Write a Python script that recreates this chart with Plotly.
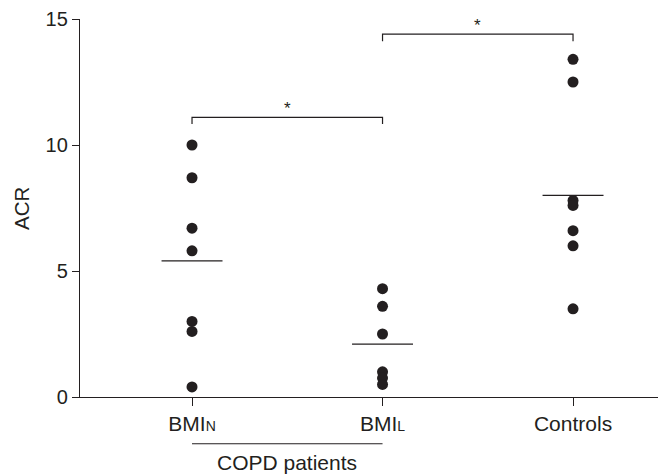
import plotly.graph_objects as go

categories = ["BMI<span style='font-size:14px'>N</span>",
              "BMI<span style='font-size:14px'>L</span>",
              "Controls"]
bmi_n = [10.0, 8.7, 6.7, 5.8, 3.0, 2.6, 0.4]
bmi_l = [4.3, 3.6, 2.5, 1.0, 0.75, 0.5]
controls = [13.4, 12.5, 7.8, 7.6, 6.6, 6.0, 3.5]
group_means = [5.4, 2.1, 8.0]
y_ticks = [0, 5, 10, 15]
group_label = "COPD patients"
sig_label = "*"

groups = [bmi_n, bmi_l, controls]
ink = "#231f20"
font_family = "Liberation Sans, Arial, sans-serif"

fig = go.Figure()
for i, vals in enumerate(groups):
    fig.add_trace(go.Scatter(
        x=[i] * len(vals), y=vals, mode="markers",
        marker=dict(size=11, color=ink, line=dict(width=0)),
        cliponaxis=False, showlegend=False, hoverinfo="y"))

# mean lines
for i, m in enumerate(group_means):
    fig.add_shape(type="line", xref="x", yref="y",
                  x0=i - 0.16, x1=i + 0.16, y0=m, y1=m,
                  line=dict(color=ink, width=1.3))

# significance brackets
brackets = [(0, 1, 11.1, 10.83), (1, 2, 14.4, 14.12)]
for a, b, top, foot in brackets:
    fig.add_shape(type="path", xref="x", yref="y",
                  path=f"M {a},{foot} L {a},{top} L {b},{top} L {b},{foot}",
                  line=dict(color=ink, width=1.2))
    fig.add_annotation(x=(a + b) / 2, y=top, xref="x", yref="y",
                       text=sig_label, showarrow=False, yanchor="bottom",
                       yshift=-3, font=dict(size=17, color=ink, family=font_family))

# COPD group line and label
fig.add_shape(type="line", xref="x", yref="paper",
              x0=0, x1=1, y0=-0.1237, y1=-0.1237,
              line=dict(color=ink, width=1.2))
fig.add_annotation(x=0.5, y=-0.172, xref="x", yref="paper",
                   text=group_label, showarrow=False, yanchor="middle",
                   font=dict(size=21, color=ink, family=font_family))

# y axis title
fig.add_annotation(x=-0.1007, y=0.5, xref="paper", yref="paper",
                   text="ACR", showarrow=False, textangle=-90,
                   xanchor="center", yanchor="middle",
                   font=dict(size=20.5, color=ink, family=font_family))

fig.update_layout(
    width=658, height=466,
    margin=dict(l=72, r=0, t=9, b=77),
    paper_bgcolor="white", plot_bgcolor="white",
    font=dict(family=font_family, size=20, color=ink),
    xaxis=dict(range=[-0.588, 2.488], tickvals=[0, 1, 2], ticktext=categories,
               tickfont=dict(size=21), ticklabeloverflow="allow",
               showgrid=False, zeroline=False, showline=True, linecolor=ink,
               linewidth=1.3, ticks="outside", ticklen=8, tickwidth=1.2,
               tickcolor=ink, fixedrange=True),
    yaxis=dict(range=[0, 15], tickvals=y_ticks, showgrid=False, zeroline=False,
               tickfont=dict(size=20), ticklabeloverflow="allow",
               showline=True, linecolor=ink, linewidth=1.3, ticks="outside",
               ticklen=7, tickwidth=1.2, tickcolor=ink, fixedrange=True),
)

fig.write_html("out.html")
